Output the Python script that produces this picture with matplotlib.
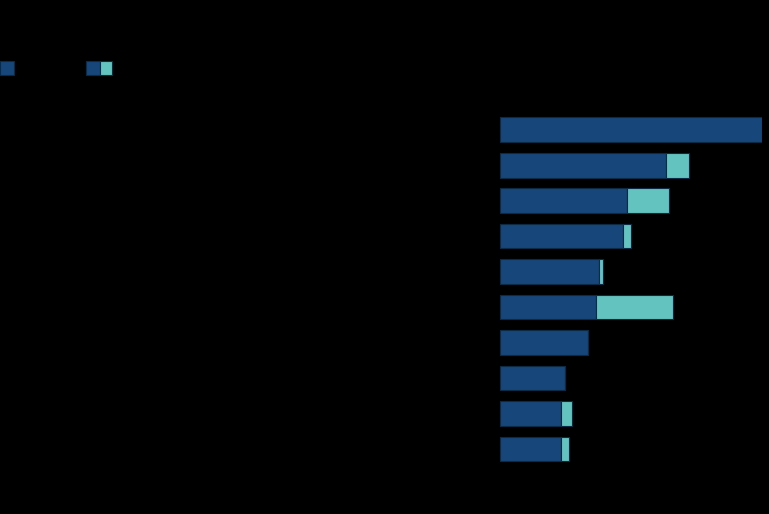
import matplotlib.pyplot as plt
from matplotlib.patches import Rectangle

# values (longest bar = 100)
categories = ['A', 'B', 'C', 'D', 'E', 'F', 'G', 'H', 'I', 'J']
base = [100, 63.2, 48.3, 46.9, 37.9, 36.6, 33.6, 24.7, 23.3, 23.3]
extra = [0, 8.8, 16.3, 3.1, 1.5, 29.4, 0, 0, 4.3, 2.9]
legend_labels = ['Base', 'Base + extra']

dark = '#17467a'
teal = '#63c4bf'
edge = '#0d2a45'

W, H = 769, 514
fig = plt.figure(figsize=(W / 100, H / 100), dpi=100)
fig.patch.set_facecolor('black')

ax = fig.add_axes([500 / W, 1 - 466.7 / H, 262 / W, (466.7 - 111.9) / H])
ax.set_facecolor('black')

y = list(range(len(categories)))
ax.barh(y, base, height=0.7, color=dark, edgecolor=edge, linewidth=0.8)
ax.barh(y, extra, left=base, height=0.7, color=teal, edgecolor=edge, linewidth=0.8)

ax.set_xlim(0, 100)
ax.set_ylim(len(categories) - 0.5, -0.5)
ax.set_yticks(y)
ax.set_yticklabels(categories, color='black')
ax.tick_params(length=0)
ax.set_xticks([])
for s in ax.spines.values():
    s.set_visible(False)

# legend swatches at the top left
def px_rect(x0, y0, w, h, c):
    fig.patches.append(Rectangle((x0 / W, 1 - (y0 + h) / H), w / W, h / H,
                                 transform=fig.transFigure, facecolor=c,
                                 edgecolor=edge, linewidth=0.8))

px_rect(0, 61, 14, 14, dark)
px_rect(86, 61, 14, 14, dark)
px_rect(100, 61, 12, 14, teal)
fig.text(18 / W, 1 - 68 / H, legend_labels[0], color='black', va='center', fontsize=10)
fig.text(116 / W, 1 - 68 / H, legend_labels[1], color='black', va='center', fontsize=10)

fig.savefig('out.png', dpi=100, facecolor='black')
